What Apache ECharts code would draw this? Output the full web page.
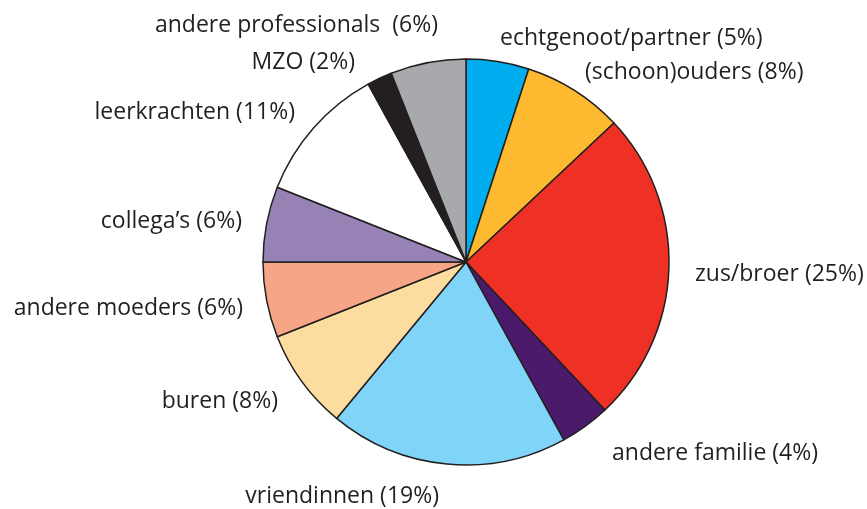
<!DOCTYPE html>
<html>
<head>
<meta charset="utf-8">
<script src="https://cdn.jsdelivr.net/npm/echarts@6/dist/echarts.min.js"></script>
<style>
    html, body { margin: 0; padding: 0; background: #fff; }
    #chart { width: 867px; height: 509px; }
</style>
</head>
<body>
<div id="chart"></div>
<script>
// categorieën en percentages (met de klok mee vanaf boven)
var categories = [
    "echtgenoot/partner",
    "(schoon)ouders",
    "zus/broer",
    "andere familie",
    "vriendinnen",
    "buren",
    "andere moeders",
    "collega’s",
    "leerkrachten",
    "MZO",
    "andere professionals "
];
var values = [5, 8, 25, 4, 19, 8, 6, 6, 11, 2, 6];
var colors = [
    "#00aeef", "#fdb92f", "#ee3124", "#4b1a6b", "#80d4f7", "#fddc9f",
    "#f6a587", "#9782b5", "#ffffff", "#231f20", "#a7a9ac"
];
// plaats van de labels (x, y, uitlijning)
var labelPos = [
    [500, 38, "left"], [585, 72, "left"], [695, 274, "left"], [612, 453, "left"],
    [439, 496, "right"], [278, 401, "right"], [243, 308, "right"], [242, 221, "right"],
    [295, 112, "right"], [355, 62, "right"], [438, 25, "right"]
];

(function() {
    var myChart = echarts.init(document.getElementById("chart"));

    var data = categories.map(function(name, i) {
        return { name: name, value: values[i], itemStyle: { color: colors[i] } };
    });

    var option = {
        animation: false,
        series: [{
            type: "pie",
            center: [466, 262],
            radius: 203,
            startAngle: 90,
            clockwise: true,
            data: data,
            itemStyle: {
                borderColor: "#231f20",
                borderWidth: 1.5
            },
            label: {
                show: true,
                position: "outside",
                formatter: "{b} ({c}%)",
                fontFamily: "Open Sans",
                fontSize: 23,
                color: "#231f20"
            },
            labelLine: { show: false },
            avoidLabelOverlap: false,
            // labels op vaste plek zoals in het origineel
            labelLayout: function(params) {
                var p = labelPos[params.dataIndex];
                return { x: p[0], y: p[1], align: p[2], verticalAlign: "middle" };
            }
        }]
    };

    myChart.setOption(option);
    window.addEventListener("resize", function() {
        myChart.resize();
    });
})();
</script>
</body>
</html>
